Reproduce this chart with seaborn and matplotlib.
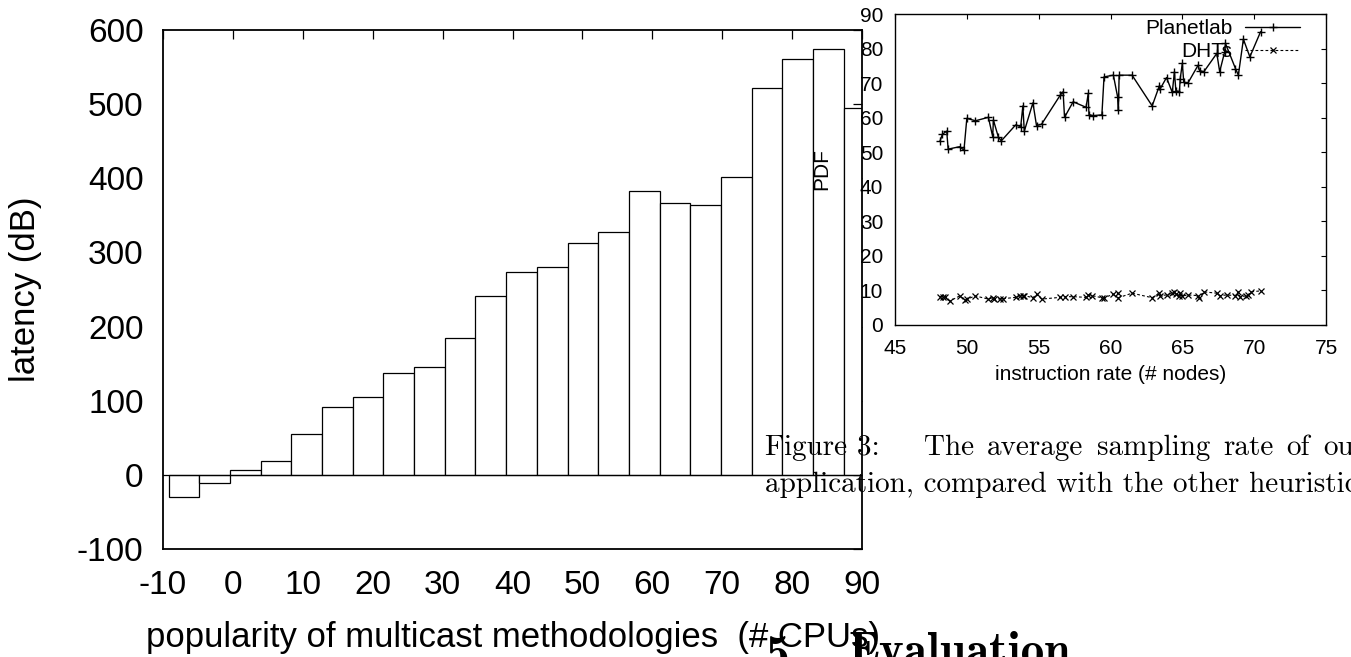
import numpy as np
import pandas as pd
import matplotlib
matplotlib.use('Agg')
import matplotlib.pyplot as plt
import seaborn as sns

# main chart: latency per bin of multicast popularity
bin_centers = [-7.00, -2.61, 1.78, 6.17, 10.56, 14.95, 19.34, 23.73, 28.12, 32.51, 36.90, 41.29,
               45.68, 50.07, 54.46, 58.85, 63.24, 67.63, 72.02, 76.41, 80.80, 85.19, 89.58]
latency = [-30, -11, 6, 19, 55, 92, 105, 137, 145, 185, 241, 274,
           281, 313, 327, 383, 366, 364, 402, 522, 561, 575, 495]
main_xticks = [-10, 0, 10, 20, 30, 40, 50, 60, 70, 80, 90]
main_yticks = [-100, 0, 100, 200, 300, 400, 500, 600]

# inset chart: PDF vs instruction rate
planet_x = [48.13, 48.3, 48.6, 48.7, 49.5, 49.8, 50.0, 50.6, 51.5, 51.8, 51.85, 52.2, 52.4,
            53.4, 53.75, 53.9, 54.0, 54.6, 54.85, 55.2, 56.5, 56.7, 56.8, 57.4, 58.3, 58.45,
            58.5, 58.75, 59.4, 59.55, 60.2, 60.5, 60.55, 60.6, 61.5, 62.9, 63.4, 63.45, 63.9,
            64.3, 64.45, 64.55, 64.8, 64.85, 65.0, 65.1, 65.4, 66.1, 66.2, 66.5, 67.4, 67.6,
            67.95, 68.0, 68.7, 68.9, 69.25, 69.7, 70.45]
planet_y = [53.2, 55.2, 56.1, 50.9, 51.6, 50.6, 59.8, 59.1, 60.1, 54.5, 59.3, 54.3, 53.3,
            57.9, 57.4, 63.4, 56.1, 64.3, 57.7, 58.1, 66.5, 67.5, 60.1, 64.6, 63.0, 67.0,
            60.9, 60.6, 60.8, 71.8, 72.3, 65.9, 62.2, 72.3, 72.3, 63.4, 69.2, 68.3, 71.6,
            67.3, 73.3, 67.8, 67.5, 71.2, 75.7, 70.2, 70.1, 75.2, 73.6, 73.3, 78.6, 73.3,
            79.1, 81.5, 74.2, 72.3, 82.7, 77.6, 84.9]
dht_x = [48.13, 48.36, 48.5, 48.8, 49.5, 49.9, 50.0, 50.6, 51.5, 51.8, 51.9, 52.3, 52.5,
         53.4, 53.7, 53.9, 54.0, 54.6, 54.85, 55.2, 56.5, 56.8, 57.4, 58.3, 58.45, 58.7,
         59.4, 59.55, 60.2, 60.5, 60.55, 61.5, 62.9, 63.4, 63.45, 63.9, 64.3, 64.45, 64.55,
         64.8, 64.85, 65.0, 65.4, 66.1, 66.15, 66.5, 67.4, 67.6, 68.1, 68.7, 68.9, 69.0,
         69.4, 69.6, 69.8, 70.5]
dht_y = [8.2, 8.2, 8.2, 6.9, 8.4, 7.2, 7.5, 8.4, 7.5, 7.9, 7.4, 7.6, 7.6,
         8.0, 8.5, 8.5, 8.5, 7.9, 8.9, 7.5, 8.0, 8.2, 8.2, 8.0, 8.7, 8.5,
         7.9, 7.9, 8.9, 9.2, 7.9, 9.2, 7.9, 9.2, 8.5, 8.7, 9.2, 9.5, 8.9,
         8.5, 9.2, 8.4, 8.7, 8.5, 7.9, 9.6, 9.2, 8.5, 8.7, 8.5, 9.6, 8.2,
         8.4, 8.7, 9.6, 9.9]
inset_xticks = [45, 50, 55, 60, 65, 70, 75]
inset_yticks = [0, 10, 20, 30, 40, 50, 60, 70, 80, 90]

# caption text around the charts
caption_head = 'Figure 3:'
caption_words = ['The', 'average', 'sampling', 'rate', 'of', 'our']
caption_line2 = 'application, compared with the other heuristics.'

sns.set_theme(style='white')
plt.rcParams['font.family'] = ['Liberation Sans', 'DejaVu Sans']
plt.rcParams['axes.unicode_minus'] = False
plt.rcParams['text.color'] = 'black'
plt.rcParams['axes.labelcolor'] = 'black'

W, H = 1351, 657
fig = plt.figure(figsize=(W / 100, H / 100), dpi=100)
fig.patch.set_facecolor('white')

def px_axes(left, top, right, bottom):
    return fig.add_axes([left / W, 1 - bottom / H, (right - left) / W, (bottom - top) / H])

# ---- main bar chart ----
ax = px_axes(163, 30, 862, 549)
sns.barplot(x=bin_centers, y=latency, native_scale=True, width=1.0, errorbar=None,
            color='white', edgecolor='black', linewidth=0.9, saturation=1, ax=ax)
ax.axhline(0, color='black', lw=0.9, zorder=3)
ax.set_xlim(-10, 90)
ax.set_ylim(-100, 600)
ax.set_xticks(main_xticks)
ax.set_yticks(main_yticks)
ax.set_xticklabels([str(t) for t in main_xticks])
ax.set_yticklabels([str(t) for t in main_yticks])
ax.tick_params(direction='in', length=6.5, width=0.9, top=True, right=True,
               labelsize=24, colors='black')
ax.tick_params(axis='y', pad=14)
ax.tick_params(axis='x', pad=15)
for s in ax.spines.values():
    s.set_color('black')
    s.set_linewidth(1.3)
ax.set_xlabel('popularity of multicast methodologies  (# CPUs)', fontsize=25)
ax.set_ylabel('latency (dB)', fontsize=25)
ax.xaxis.set_label_coords(0.5, -0.139)
ax.yaxis.set_label_coords(-0.173, 0.5)

# ---- inset line chart ----
ax2 = px_axes(895, 14, 1326, 325)
sns.lineplot(x=planet_x, y=planet_y, sort=False, estimator=None, color='black', lw=1.0,
             marker='+', markersize=6, markeredgecolor='black', markeredgewidth=1.0,
             label='Planetlab', ax=ax2)
sns.lineplot(x=dht_x, y=dht_y, sort=False, estimator=None, color='black', lw=0.8,
             linestyle=(0, (2.5, 2)), marker='x', markersize=5, markeredgecolor='black',
             markeredgewidth=0.9, label='DHTs', ax=ax2)
ax2.set_xlim(45, 75)
ax2.set_ylim(0, 90)
ax2.set_xticks(inset_xticks)
ax2.set_yticks(inset_yticks)
ax2.tick_params(direction='in', length=3.5, width=0.8, top=True, right=True,
                labelsize=15, colors='black')
ax2.tick_params(axis='y', pad=8.5)
ax2.tick_params(axis='x', pad=10)
for s in ax2.spines.values():
    s.set_color('black')
    s.set_linewidth(1.0)
ax2.set_xlabel('instruction rate (# nodes)', fontsize=15)
ax2.set_ylabel('PDF', fontsize=15)
ax2.xaxis.set_label_coords(0.5, -0.129)
ax2.yaxis.set_label_coords(-0.148, 0.5)
ax2.legend(loc='upper right', bbox_to_anchor=(0.94, 0.984), frameon=False, fontsize=15,
           markerfirst=False, handlelength=2.65, handletextpad=0.6, labelspacing=0.2,
           borderpad=0, borderaxespad=0)

# ---- surrounding page text ----
serif = ['cmr10', 'DejaVu Serif']
fig.text(765 / W, 1 - 455 / H, caption_head, family=serif, fontsize=21,
         va='baseline', ha='left', color='black')
fig.text(765 / W, 1 - 492 / H, caption_line2,
         family=serif, fontsize=21, va='baseline', ha='left', color='black')

# first caption line is justified: spread the words between x=924 and the start of "our" at x=1323
renderer = fig.canvas.get_renderer()
word_texts = [fig.text(0, 1 - 455 / H, w, family=serif, fontsize=21, va='baseline',
                       ha='left', color='black') for w in caption_words]
widths = [t.get_window_extent(renderer).width for t in word_texts]
gap = (1323 - 924 - sum(widths[:-1])) / (len(caption_words) - 1)
xpos = 924
for t, w in zip(word_texts, widths):
    t.set_x(xpos / W)
    xpos += w + gap

fig.text(766 / W, 1 - 668 / H, '5', family=['cmb10', 'DejaVu Serif'], fontsize=34,
         va='baseline', ha='left', color='black')
fig.text(848 / W, 1 - 665 / H, 'Evaluation', family=['cmb10', 'DejaVu Serif'], fontsize=34,
         va='baseline', ha='left', color='black')

fig.savefig('out.png', dpi=100)
